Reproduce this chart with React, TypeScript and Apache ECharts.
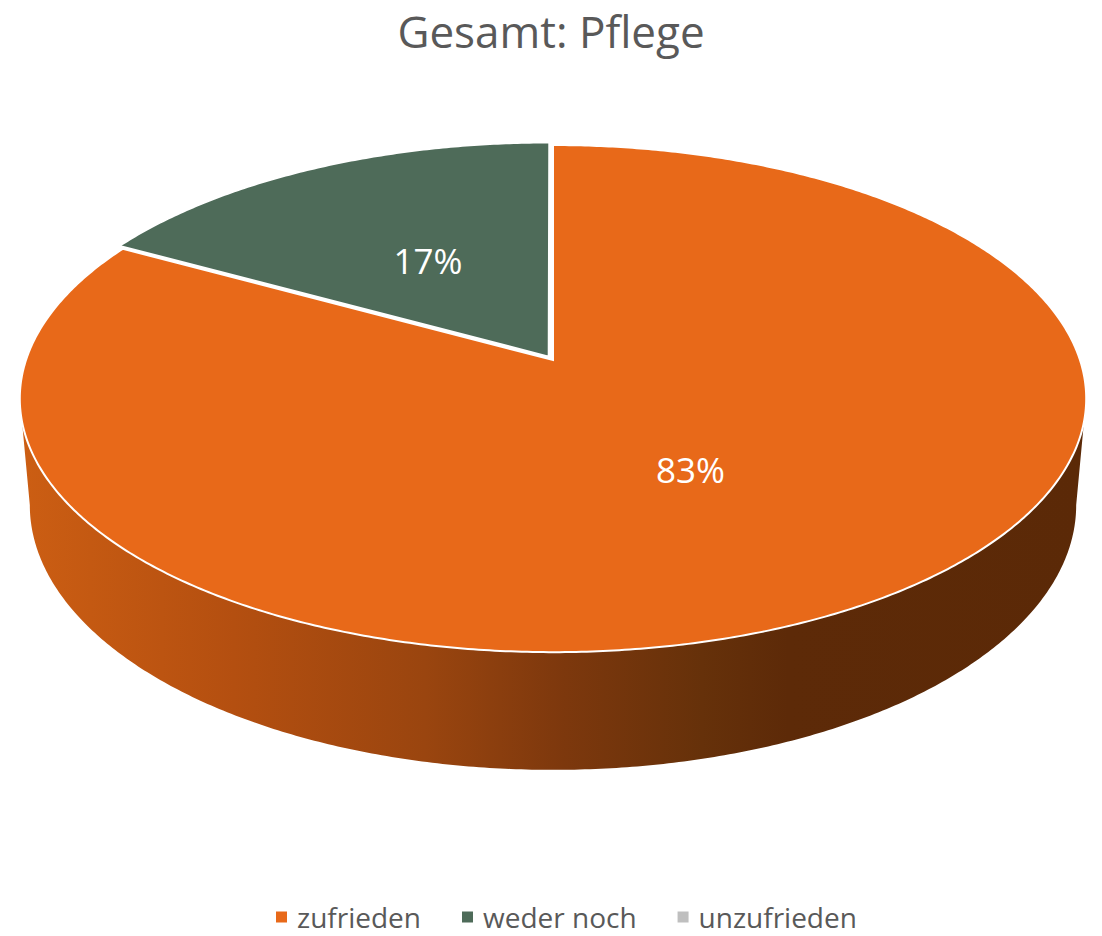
import React, { useEffect, useRef } from "react";
import * as echarts from "echarts";

// ---- data ----
const categories: string[] = ["zufrieden", "weder noch", "unzufrieden"];
const values: number[] = [83, 17, 0];
const colors: string[] = ["#E86919", "#4E6B59", "#BFBFBF"];
const titleText = "Gesamt: Pflege";

// ---- 3D projection parameters (layout only) ----
const CX = 553;
const CY = 360;
const S = 527;
const SIN_A = 0.47;
const COS_A = Math.sqrt(1 - SIN_A * SIN_A);
const D = 5.8;
const H = 0.231;
const EXPLODE = [0, 0.016, 0];
const SIDE_LO = 98.6;
const SIDE_HI = 261.4;
const LABEL_R = 0.48;

function proj(X: number, Y: number, Z: number): number[] {
  const yUp = Y * COS_A - Z * SIN_A;
  const d = Y * SIN_A + Z * COS_A;
  const s = D / (D - d);
  return [CX + S * X * s, CY - S * yUp * s];
}

function rad(a: number) {
  return (a * Math.PI) / 180;
}

function arcPoints(a: number, b: number, Y: number, ox: number, oz: number): number[][] {
  const pts: number[][] = [];
  const n = Math.max(2, Math.ceil(Math.abs(b - a) / 0.5));
  for (let k = 0; k <= n; k++) {
    const phi = a + ((b - a) * k) / n;
    pts.push(proj(ox + Math.sin(rad(phi)), Y, oz - Math.cos(rad(phi))));
  }
  return pts;
}

const sideGradient = {
  type: "linear",
  x: 20,
  y: 0,
  x2: 1086,
  y2: 0,
  global: true,
  colorStops: [
    { offset: 0, color: "#CC5E13" },
    { offset: 0.2, color: "#B44F10" },
    { offset: 0.38, color: "#9A450F" },
    { offset: 0.51, color: "#7D380D" },
    { offset: 0.64, color: "#66310A" },
    { offset: 0.72, color: "#5D2A08" },
    { offset: 1, color: "#5B2907" },
  ],
};

function buildSlice(i: number, value: number) {
  const total = values.reduce((s, v) => s + v, 0);
  if (!(value > 0) || total <= 0) return { type: "group", children: [] };
  let before = 0;
  for (let k = 0; k < i; k++) before += values[k];
  const start = (before / total) * 360;
  const end = start + (value / total) * 360;
  const mid = (start + end) / 2;
  const ox = EXPLODE[i] * Math.sin(rad(mid));
  const oz = -EXPLODE[i] * Math.cos(rad(mid));
  const children: any[] = [];

  // side wall (visible front part)
  const lo = Math.max(start, SIDE_LO);
  const hi = Math.min(end, SIDE_HI);
  if (hi > lo) {
    const top = arcPoints(lo, hi, 0, ox, oz);
    const bot = arcPoints(hi, lo, -H, ox, oz);
    children.push({
      type: "polygon",
      z2: 1,
      shape: { points: top.concat(bot) },
      style: { fill: i === 0 ? sideGradient : colors[i], stroke: null },
    });
  }

  // top face
  const topPts = [proj(ox, 0, oz)].concat(arcPoints(start, end, 0, ox, oz));
  children.push({
    type: "polygon",
    z2: 10,
    shape: { points: topPts },
    style: { fill: colors[i], stroke: "#FFFFFF", lineWidth: 2, lineJoin: "miter" },
  });

  // label
  const lp = proj(ox + LABEL_R * Math.sin(rad(mid)), 0, oz - LABEL_R * Math.cos(rad(mid)));
  children.push({
    type: "text",
    z2: 20,
    style: {
      text: Math.round((value / total) * 100) + "%",
      x: lp[0],
      y: lp[1],
      fill: "#FFFFFF",
      fontSize: 35,
      fontFamily: "Open Sans",
      align: "center",
      verticalAlign: "middle",
    },
  });
  return { type: "group", children };
}

export default function App() {
  const ref = useRef<HTMLDivElement>(null);
  useEffect(() => {
    if (!ref.current) return;
    const chart = echarts.init(ref.current, null, { renderer: "svg" });
    const option: any = {
      animation: false,
      backgroundColor: "#FFFFFF",
      title: {
        text: titleText,
        left: "center",
        top: 6,
        padding: 0,
        textStyle: {
          fontFamily: "Open Sans",
          fontSize: 44,
          lineHeight: 50,
          fontWeight: "normal",
          color: "#595959",
        },
      },
      legend: {
        data: categories,
        left: 276,
        top: 903,
        padding: 0,
        icon: "rect",
        itemWidth: 11,
        itemHeight: 11,
        itemGap: 41,
        textStyle: {
          fontFamily: "Open Sans",
          fontSize: 28,
          color: "#595959",
          padding: [0, 0, 0, 5],
        },
      },
      series: categories.map((name, i) => ({
        type: "custom",
        name,
        coordinateSystem: "none",
        data: [values[i]],
        itemStyle: { color: colors[i] },
        renderItem: (_params: any, api: any) => buildSlice(i, api.value(0)),
      })),
    };
    chart.setOption(option);
    return () => chart.dispose();
  }, []);
  return (
    <div
      ref={ref}
      style={{ position: "fixed", left: 0, top: 0, width: 1102, height: 936 }}
    />
  );
}
